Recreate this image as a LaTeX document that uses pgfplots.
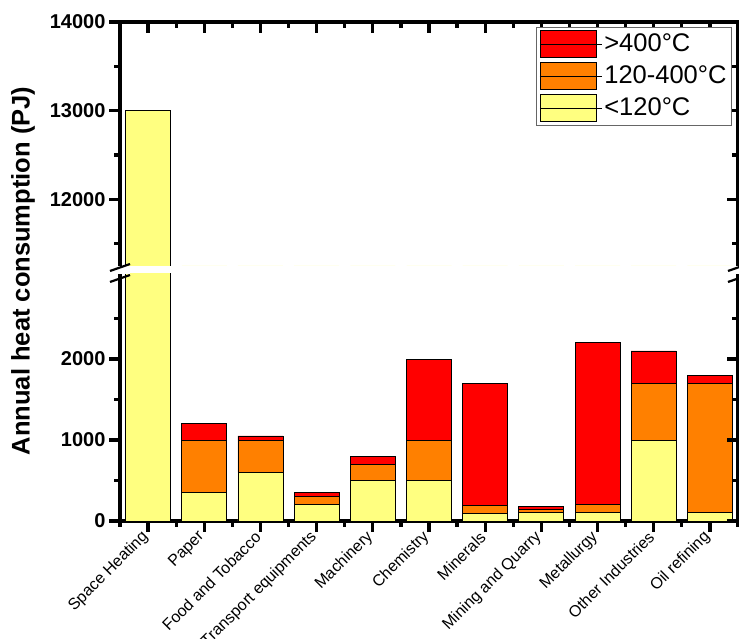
\documentclass[border=0pt]{standalone}
\usepackage{fontspec}
\setmainfont{Liberation Sans}
\usepackage{pgfplots}
\usepackage{pgfplotstable}
\pgfplotsset{compat=1.18}
\definecolor{cred}{HTML}{FF0000}
\definecolor{corange}{HTML}{FF8000}
\definecolor{cyellow}{HTML}{FFFF80}

\pgfplotstableread{
x low mid high
0 13000 0 0
1 350 650 200
2 600 400 50
3 200 100 50
4 500 200 100
5 500 500 1000
6 90 100 1510
7 100 40 40
8 100 100 2000
9 1000 700 400
10 100 1600 100
}\datatable

\pgfplotsset{
  geom/.style={scale only axis, width=618pt, xmin=-0.5, xmax=10.5, enlargelimits=false,
    xtick={0,...,10}, minor xtick={-0.5,0.5,...,10.5},
    scaled y ticks=false,
    /pgf/number format/assume math mode=true,
    /pgf/number format/1000 sep={},
    yticklabel style={font=\bfseries\fontsize{20}{20}\selectfont},
  },
  lines/.style={
    axis line style={-, line width=3.5pt, line cap=rect},
    every outer x axis line/.style={-, line width=3.5pt, line cap=rect},
    every outer y axis line/.style={-, line width=3.5pt, line cap=rect},
    every tick/.style={black, line width=3.2pt},
    major tick style={black, line width=3.2pt},
    minor tick style={black, line width=3.2pt},
    major tick length=11pt, minor tick length=6pt,
  },
  bars/.style={ybar stacked, bar width=45pt},
  bstyle/.style={draw=black, line width=0.8pt},
}

\begin{document}
\begin{tikzpicture}
\path[use as bounding box] (0,0) rectangle (739pt,639pt);

% lower main axis
\begin{axis}[geom, bars, name=lower, at={(120pt,118pt)}, anchor=south west, height=247pt,
  ymin=0, ymax=3050,
  axis x line=bottom, axis y line=left, tick align=outside,
  ytick={0,1000,2000}, minor ytick={500,1500,2500},
  xticklabels={Space Heating, Paper, Food and Tobacco, Transport equipments, Machinery, Chemistry, Minerals, Mining and Quarry, Metallurgy, Other Industries, Oil refining},
  xticklabel style={rotate=45, anchor=east, font=\fontsize{16}{16}\selectfont},
  lines,
]
\addplot[bstyle, fill=cyellow] table[x=x, y=low] {\datatable};
\addplot[bstyle, fill=corange] table[x=x, y=mid] {\datatable};
\addplot[bstyle, fill=cred] table[x=x, y=high] {\datatable};
\end{axis}

% lower overlay (right axis)
\begin{axis}[geom, at={(120pt,118pt)}, anchor=south west, height=247pt,
  ymin=0, ymax=3050,
  axis x line=none, axis y line=right, tick align=inside,
  ytick={0,1000,2000}, minor ytick={500,1500,2500}, yticklabels={},
  lines,
]
\end{axis}

% upper overlay (top and right axis)
\begin{axis}[geom, at={(120pt,373pt)}, anchor=south west, height=244pt,
  ymin=11250, ymax=14000,
  axis x line=top, axis y line=right, tick align=inside,
  ytick={12000,13000,14000}, minor ytick={11500,12500,13500}, yticklabels={}, xticklabels={},
  lines,
]
\end{axis}

% upper main axis
\begin{axis}[geom, bars, name=upper, at={(120pt,373pt)}, anchor=south west, height=244pt,
  ymin=11250, ymax=14000,
  axis x line=none, axis y line=left, tick align=outside,
  ytick={12000,13000,14000}, minor ytick={11500,12500,13500},
  reverse legend, legend cell align=left,
  legend style={at={(0.990,0.980)}, anchor=north east, draw=black!60, line width=0.6pt,
    font=\fontsize{25.5}{25.5}\selectfont, row sep=4pt, inner sep=3pt,
    nodes={inner sep=2pt, text height=19pt, text depth=5pt}},
  legend image code/.code={\draw[#1, draw=black, line width=0.8pt] (0pt,-13.5pt) rectangle (56pt,13.5pt); \path (0pt,0pt) -- (62pt,0pt);},
  lines,
]
\addplot[bstyle, fill=cyellow] table[x=x, y=low] {\datatable};
\addplot[bstyle, fill=corange] table[x=x, y=mid] {\datatable};
\addplot[bstyle, fill=cred] table[x=x, y=high] {\datatable};
\legend{{<120°C}, {120-400°C}, {>400°C}}
\end{axis}

\node[rotate=90, font=\bfseries\fontsize{25.5}{25.5}\selectfont] at (23pt,368pt) {Annual heat consumption (PJ)};

% axis break marks
\foreach \c in {lower.north west, lower.north east} {
  \fill[white] ([shift={(-10pt,0pt)}]\c) rectangle ([shift={(10pt,8pt)}]\c);
  \draw[line width=2.2pt] ([shift={(-10pt,3pt)}]\c) -- ++(20pt,7pt);
  \draw[line width=2.2pt] ([shift={(-10pt,-8pt)}]\c) -- ++(20pt,7pt);
}
\end{tikzpicture}
\end{document}
